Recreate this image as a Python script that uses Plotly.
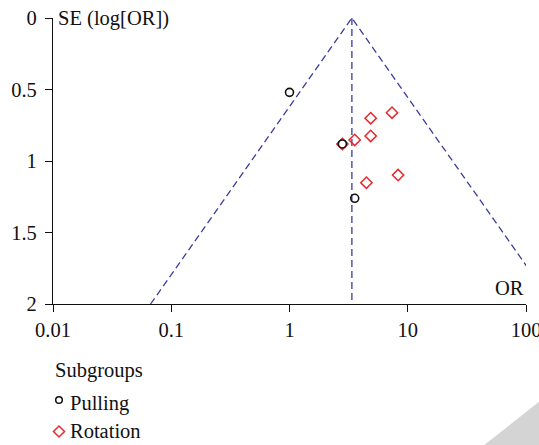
import math
import plotly.graph_objects as go

# ---- data ----
pulling_or = [1.0, 2.80, 3.56]
pulling_se = [0.52, 0.881, 1.261]

rotation_or = [4.86, 7.36, 4.86, 3.56, 2.80, 4.47, 8.28]
rotation_se = [0.701, 0.662, 0.825, 0.853, 0.881, 1.152, 1.098]

pooled_or = 3.37
se_max = 2.0

x_tickvals = [0.01, 0.1, 1, 10, 100]
x_ticktext = ["0.01", "0.1", "1", "10", "100"]
y_tickvals = [0, 0.5, 1, 1.5, 2]
y_ticktext = ["0", "0.5", "1", "1.5", "2"]

legend_title = "Subgroups"
legend_labels = ["Pulling", "Rotation"]

# ---- styling ----
FONT = "Liberation Serif"
FS = 20.5
LINE_COL = "#3b3b9c"
RED = "#e8282c"
BLACK = "#111111"

W, H = 539, 445
ML, MR, MT, MB = 53, 13, 18, 141

# 95% pseudo-confidence limits of the funnel
lo_end = pooled_or * math.exp(-1.96 * se_max)
hi_end = pooled_or * math.exp(1.96 * se_max)

fig = go.Figure()
dash_style = dict(color=LINE_COL, width=1.3, dash="7px,4px")
fig.add_trace(go.Scatter(x=[lo_end, pooled_or, hi_end], y=[se_max, 0, se_max],
                         mode="lines", line=dash_style, hoverinfo="skip", showlegend=False))
fig.add_trace(go.Scatter(x=[pooled_or, pooled_or], y=[0, se_max],
                         mode="lines", line=dash_style, hoverinfo="skip", showlegend=False))

fig.add_trace(go.Scatter(x=rotation_or, y=rotation_se, mode="markers", name="Rotation",
                         marker=dict(symbol="diamond-open", size=8.7, color=RED,
                                     line=dict(width=1.5, color=RED)),
                         showlegend=False, cliponaxis=False))
fig.add_trace(go.Scatter(x=pulling_or, y=pulling_se, mode="markers", name="Pulling",
                         marker=dict(symbol="circle-open", size=8, color=BLACK,
                                     line=dict(width=1.6, color=BLACK)),
                         showlegend=False, cliponaxis=False))

pw = W - ML - MR
ph = H - MT - MB


def px2paper(px, py):
    return (px - ML) / pw, (H - MB - py) / ph


annotations = []
# axis titles
annotations.append(dict(text="SE (log[OR])", xref="paper", yref="paper", x=0, y=1,
                        xanchor="left", yanchor="middle", xshift=3, showarrow=False,
                        font=dict(family=FONT, size=FS, color=BLACK)))
annotations.append(dict(text="OR", xref="paper", yref="paper", x=1, y=0,
                        xanchor="right", yanchor="bottom", yshift=3, showarrow=False,
                        font=dict(family=FONT, size=FS, color=BLACK)))

# manual legend
lx, ly = px2paper(53, 370)
annotations.append(dict(text=legend_title, xref="paper", yref="paper", x=lx, y=ly,
                        xanchor="left", yanchor="middle", showarrow=False,
                        font=dict(family=FONT, size=FS, color=BLACK)))
for lbl, py in zip(legend_labels, [403, 431]):
    tx, ty = px2paper(68, py)
    annotations.append(dict(text=lbl, xref="paper", yref="paper", x=tx, y=ty,
                            xanchor="left", yanchor="middle", showarrow=False,
                            font=dict(family=FONT, size=FS, color=BLACK)))

shapes = []
cx, cy = px2paper(59, 400)
shapes.append(dict(type="circle", xref="paper", yref="paper", xsizemode="pixel",
                   ysizemode="pixel", xanchor=cx, yanchor=cy, x0=-3.3, x1=3.3,
                   y0=-3.3, y1=3.3, line=dict(color=BLACK, width=1.5)))
dx, dy = px2paper(59, 431.5)
shapes.append(dict(type="path", xref="paper", yref="paper", xsizemode="pixel",
                   ysizemode="pixel", xanchor=dx, yanchor=dy,
                   path="M -5.5 0 L 0 5.5 L 5.5 0 L 0 -5.5 Z",
                   line=dict(color=RED, width=1.5)))
# page-corner shading in the bottom right
p1 = px2paper(483, 446)
p2 = px2paper(540, 446)
p3 = px2paper(540, 401)
shapes.append(dict(type="path", xref="paper", yref="paper",
                   path=f"M {p1[0]} {p1[1]} L {p2[0]} {p2[1]} L {p3[0]} {p3[1]} Z",
                   fillcolor="#d4d4d4", line=dict(width=0), layer="below"))

fig.update_layout(
    width=W, height=H,
    margin=dict(l=ML, r=MR, t=MT, b=MB, autoexpand=False),
    paper_bgcolor="white", plot_bgcolor="white",
    showlegend=False,
    annotations=annotations,
    shapes=shapes,
    font=dict(family=FONT, size=FS, color=BLACK),
)
fig.update_xaxes(type="log", range=[-2, 2], tickvals=x_tickvals, ticktext=x_ticktext,
                 ticks="outside", ticklen=7, tickwidth=1.3, tickcolor=BLACK,
                 showline=True, linecolor=BLACK, linewidth=1.3, showgrid=False,
                 zeroline=False, ticklabeloverflow="allow", automargin=False,
                 tickfont=dict(family=FONT, size=FS, color=BLACK))
fig.update_yaxes(range=[2, 0], tickvals=y_tickvals, ticktext=y_ticktext,
                 ticks="outside", ticklen=7, tickwidth=1.3, tickcolor=BLACK,
                 showline=True, linecolor=BLACK, linewidth=1.3, showgrid=False,
                 zeroline=False, ticklabelstandoff=4, automargin=False,
                 tickfont=dict(family=FONT, size=FS, color=BLACK))

fig.write_html("out.html")
